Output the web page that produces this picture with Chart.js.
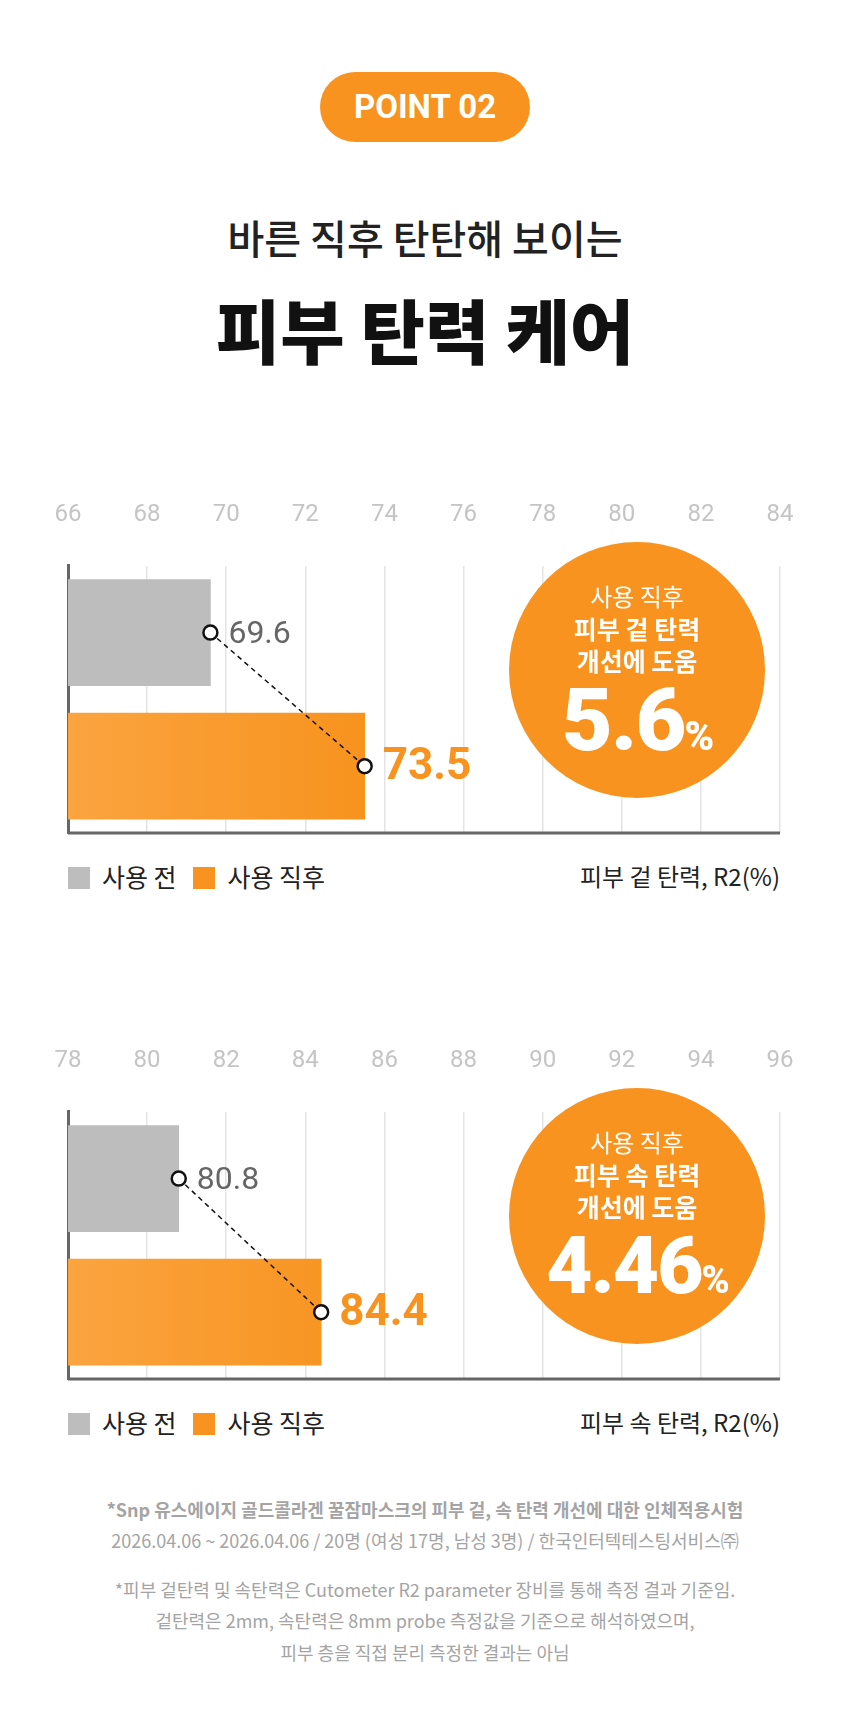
<!DOCTYPE html>
<html><head><meta charset="utf-8">
<script src="https://cdn.jsdelivr.net/npm/chart.js@4"></script>
<style>
body{margin:0;width:850px;height:1714px;background:#fff;position:relative;font-family:"Noto Sans CJK KR","Noto Sans",sans-serif;overflow:hidden}
.abs{position:absolute}
.pill{left:320px;top:72px;width:210px;height:70px;border-radius:35px;background:#f7931e;color:#fff;font:700 33px Roboto,"Noto Sans CJK KR";text-align:center;line-height:70px}
.t1{left:0;width:850px;top:208px;text-align:center;font-size:40px;color:#222;font-weight:500}
.t2{left:0;width:850px;top:278px;text-align:center;font-size:70px;color:#111;font-weight:900}
.wrap{left:0;width:850px;height:400px}
.circ{width:256px;height:256px;border-radius:50%;background:#f7931e;color:#fff;text-align:center}
.leg{font-size:25px;color:#222}
.sq{display:inline-block;width:22px;height:22px;vertical-align:-2px;margin-right:12px}
.note{left:0;width:850px;text-align:center;color:#a4a4a4;font-size:18px}
</style></head><body>
<div class="abs pill">POINT 02</div>
<div class="abs t1">바른 직후 탄탄해 보이는</div>
<div class="abs t2">피부 탄력 케어</div>

<div class="abs wrap" style="top:455px"><canvas id="c1"></canvas></div>
<div class="abs wrap" style="top:1001px"><canvas id="c2"></canvas></div>

<div class="abs circ" style="left:509px;top:542px">
 <div style="padding-top:38px;font-size:24px;line-height:32px">사용 직후</div>
 <div style="font-size:25px;font-weight:700;line-height:32px">피부 겉 탄력<br>개선에 도움</div>
 <div style="font:900 88px Roboto,sans-serif;line-height:88px;letter-spacing:-2px">5.6<span style="font-size:40px">%</span></div>
</div>
<div class="abs circ" style="left:509px;top:1088px">
 <div style="padding-top:38px;font-size:24px;line-height:32px">사용 직후</div>
 <div style="font-size:25px;font-weight:700;line-height:32px">피부 속 탄력<br>개선에 도움</div>
 <div style="font:900 80px Roboto,sans-serif;line-height:88px;letter-spacing:-2px">4.46<span style="font-size:38px">%</span></div>
</div>

<div class="abs leg" style="left:68px;top:858px"><span class="sq" style="background:#bdbdbd"></span>사용 전&nbsp;&nbsp;&nbsp;<span class="sq" style="background:#f7931e"></span>사용 직후</div>
<div class="abs leg" style="right:70px;top:858px;font-size:24px">피부 겉 탄력, R2(%)</div>
<div class="abs leg" style="left:68px;top:1404px"><span class="sq" style="background:#bdbdbd"></span>사용 전&nbsp;&nbsp;&nbsp;<span class="sq" style="background:#f7931e"></span>사용 직후</div>
<div class="abs leg" style="right:70px;top:1404px;font-size:24px">피부 속 탄력, R2(%)</div>

<div class="abs note" style="top:1496px;font-weight:700">*Snp 유스에이지 골드콜라겐 꿀잠마스크의 피부 겉, 속 탄력 개선에 대한 인체적용시험</div>
<div class="abs note" style="top:1527px">2026.04.06 ~ 2026.04.06 / 20명 (여성 17명, 남성 3명) / 한국인터텍테스팅서비스㈜</div>
<div class="abs note" style="top:1576px">*피부 겉탄력 및 속탄력은 Cutometer R2 parameter 장비를 통해 측정 결과 기준임.</div>
<div class="abs note" style="top:1607px">겉탄력은 2mm, 속탄력은 8mm probe 측정값을 기준으로 해석하였으며,</div>
<div class="abs note" style="top:1639px">피부 층을 직접 분리 측정한 결과는 아님</div>

<script>
const categories = ['사용 전', '사용 직후'];
const outerValues = [69.6, 73.5];
const innerValues = [80.8, 84.4];
const outerRange = [66, 84];
const innerRange = [78, 96];

const valueLabels = {
  id: 'valueLabels',
  afterDatasetsDraw(chart) {
    const ctx = chart.ctx, a = chart.chartArea;
    ctx.save();
    ctx.strokeStyle = '#666'; ctx.lineWidth = 3;
    ctx.beginPath(); ctx.moveTo(a.left, a.bottom); ctx.lineTo(a.right, a.bottom); ctx.stroke();
    const meta = chart.getDatasetMeta(1);
    meta.data.forEach((pt, i) => {
      const v = chart.data.datasets[1].data[i];
      ctx.font = (i ? '700 44px' : '400 32px') + ' Roboto, sans-serif';
      ctx.fillStyle = i ? '#f7931e' : '#666';
      ctx.textBaseline = 'middle';
      ctx.fillText(v.toFixed(1), pt.x + 18, pt.y + 2);
    });
    ctx.restore();
  }
};

function makeChart(id, values, range) {
  const c = document.getElementById(id);
  const g = c.getContext('2d');
  return new Chart(g, {
    type: 'bar',
    data: {
      labels: categories,
      datasets: [{
        data: values,
        backgroundColor: (ctx) => {
          if (ctx.dataIndex === 0) return '#bdbdbd';
          const a = ctx.chart.chartArea;
          if (!a) return '#f7931e';
          const gr = ctx.chart.ctx.createLinearGradient(a.left, 0, a.left + 300, 0);
          gr.addColorStop(0, '#fba440'); gr.addColorStop(1, '#f7931e');
          return gr;
        },
        barThickness: 106,
        order: 2
      }, {
        type: 'line',
        indexAxis: 'y',
        data: values,
        borderColor: '#111', borderWidth: 1.5, borderDash: [5, 4],
        pointRadius: 7, pointBorderWidth: 2.5,
        pointBackgroundColor: '#fff', pointBorderColor: '#111',
        order: 1
      }]
    },
    options: {
      indexAxis: 'y',
      responsive: true, maintainAspectRatio: false, animation: false,
      layout: { padding: { left: 68, right: 70, top: 10, bottom: 22 } },
      plugins: { legend: { display: false }, tooltip: { enabled: false } },
      scales: {
        x: {
          position: 'top', min: range[0], max: range[1],
          ticks: { stepSize: 2, color: '#c4c4c4', padding: 36, font: { size: 24, family: 'Roboto' } },
          grid: { color: '#e4e4e4', lineWidth: 1.5, drawTicks: false },
          border: { display: false }
        },
        y: {
          ticks: { display: false },
          grid: { display: false, drawTicks: false },
          border: { color: '#666', width: 3 }
        }
      }
    },
    plugins: [valueLabels]
  });
}
makeChart('c1', outerValues, outerRange);
makeChart('c2', innerValues, innerRange);
</script>
</body></html>
